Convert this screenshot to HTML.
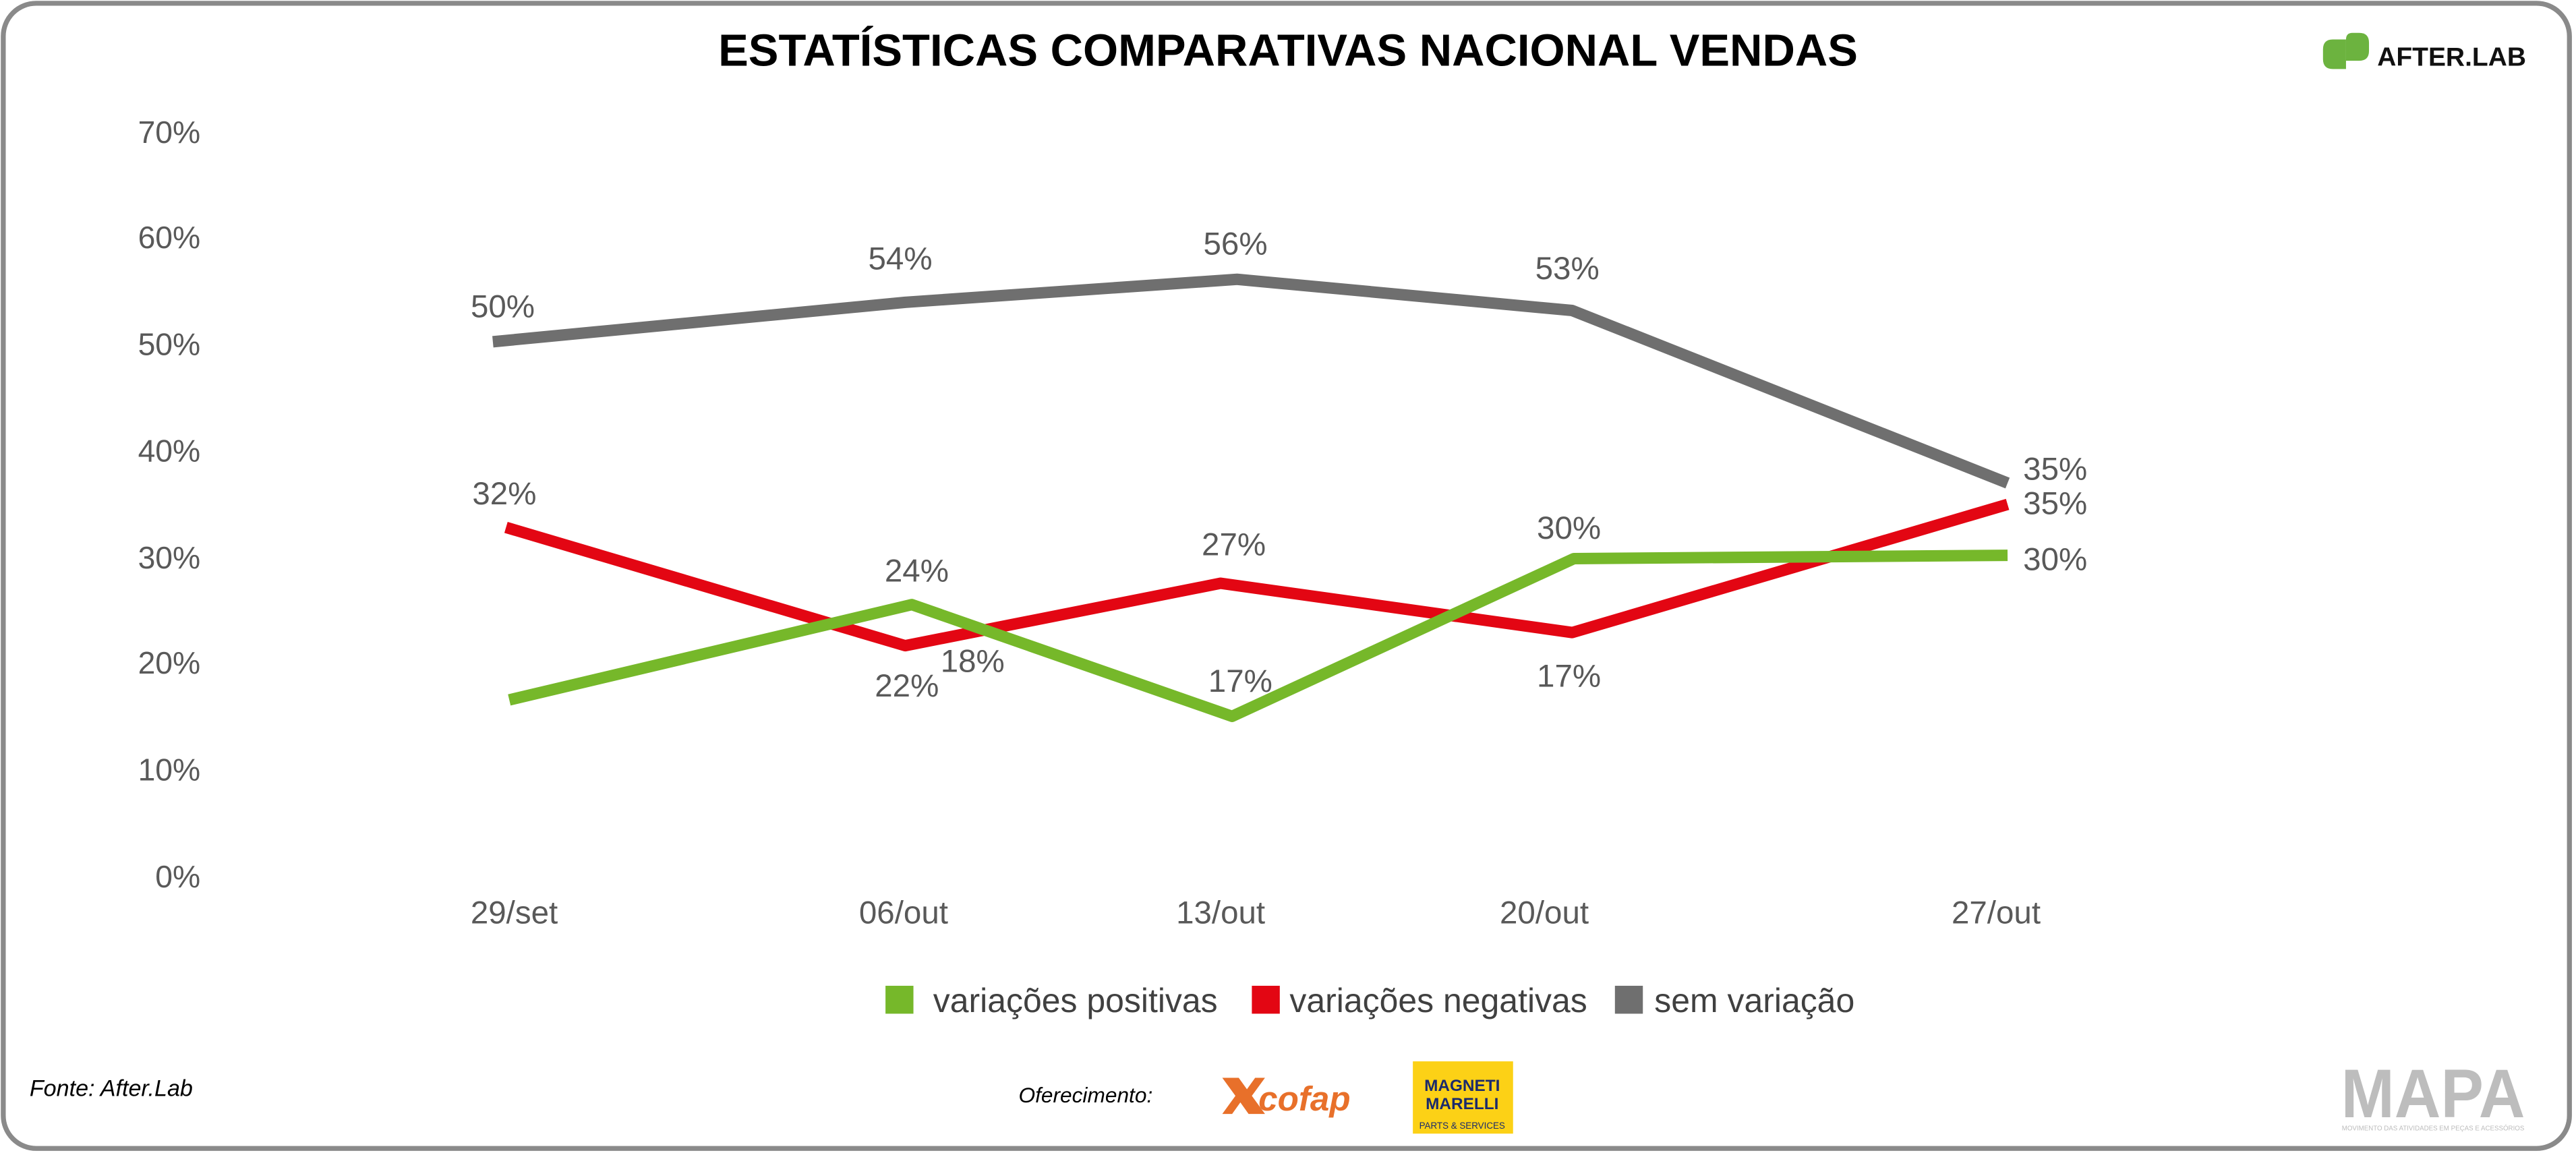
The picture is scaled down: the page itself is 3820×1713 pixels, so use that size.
<!DOCTYPE html>
<html><head><meta charset="utf-8"><style>
html,body{margin:0;padding:0;background:#fff;}
svg{display:block;}
</style></head><body>
<svg width="3820" height="1713" viewBox="0 0 1568 703" preserveAspectRatio="none" xmlns="http://www.w3.org/2000/svg" font-family="Liberation Sans, sans-serif">
<rect x="0" y="0" width="1568" height="703" fill="#fff"/>
<rect x="2" y="2" width="1562" height="697" rx="20" ry="20" fill="none" stroke="#8a8a8a" stroke-width="3"/>
<text x="784" y="40" text-anchor="middle" font-size="27.5" font-weight="bold" fill="#000">ESTATÍSTICAS COMPARATIVAS NACIONAL VENDAS</text>
<!-- After.lab logo -->
<path d="M1414 30 q0-6 6-6 h8 v18 h-8 q-6 0-6-6z" fill="#6cb33f"/>
<path d="M1428 24 q0-4 4-4 h4 q6 0 6 6 v5 q0 6 -6 6 h-8z" fill="#6cb33f"/>
<text x="1447" y="40" font-size="16" font-weight="bold" fill="#111">AFTER.LAB</text>
<!-- y axis -->
<g font-size="19" fill="#595959" text-anchor="end">
<text x="122" y="87">70%</text>
<text x="122" y="151">60%</text>
<text x="122" y="216">50%</text>
<text x="122" y="281">40%</text>
<text x="122" y="346">30%</text>
<text x="122" y="410">20%</text>
<text x="122" y="475">10%</text>
<text x="122" y="540">0%</text>
</g>
<g font-size="19.5" fill="#595959" text-anchor="middle">
<text x="313" y="562">29/set</text>
<text x="550" y="562">06/out</text>
<text x="743" y="562">13/out</text>
<text x="940" y="562">20/out</text>
<text x="1215" y="562">27/out</text>
</g>
<g fill="none" stroke-width="7" stroke-linejoin="round" stroke-linecap="butt">
<polyline stroke="#6f6f6f" points="300,208 551,184 753,170 957,189 1222,294"/>
<polyline stroke="#e30613" points="308,321 551,393 743,355 957,385 1222,307"/>
<polyline stroke="#76b82a" points="310,426 555,368 750,436 958,340 1222,338"/>
</g>
<g font-size="19.5" fill="#595959" text-anchor="middle">
<text x="306" y="193">50%</text>
<text x="548" y="164">54%</text>
<text x="752" y="155">56%</text>
<text x="954" y="170">53%</text>
<text x="1251" y="292">35%</text>
<text x="307" y="307">32%</text>
<text x="552" y="424">22%</text>
<text x="751" y="338">27%</text>
<text x="955" y="418">17%</text>
<text x="1251" y="313">35%</text>
<text x="558" y="354">24%</text>
<text x="592" y="409">18%</text>
<text x="755" y="421">17%</text>
<text x="955" y="328">30%</text>
<text x="1251" y="347">30%</text>
</g>
<!-- legend -->
<rect x="539" y="600" width="17" height="17" fill="#76b82a"/>
<text x="568" y="616" font-size="20.5" fill="#404040">variações positivas</text>
<rect x="762" y="600" width="17" height="17" fill="#e30613"/>
<text x="785" y="616" font-size="20.5" fill="#404040">variações negativas</text>
<rect x="983" y="600" width="17" height="17" fill="#6f6f6f"/>
<text x="1007" y="616" font-size="20.5" fill="#404040">sem variação</text>
<!-- footer -->
<text x="18" y="667" font-size="14" font-style="italic" fill="#000">Fonte: After.Lab</text>
<text x="620" y="671" font-size="13" font-style="italic" fill="#000">Oferecimento:</text>
<path d="M744 656 h10 l5 7 l5 -7 h6 l-8 11 l8 11 h-10 l-5 -7 l-5 7 h-6 l8 -11z" fill="#e8702a"/>
<text x="766" y="676" font-size="21" font-weight="bold" font-style="italic" fill="#e8702a">cofap</text>
<rect x="860" y="646" width="61" height="44" fill="#fcd116"/>
<text x="890" y="664" font-size="10" font-weight="bold" fill="#1a2a6c" text-anchor="middle">MAGNETI</text>
<text x="890" y="675" font-size="10" font-weight="bold" fill="#1a2a6c" text-anchor="middle">MARELLI</text>
<text x="890" y="687" font-size="5.5" fill="#1a2a6c" text-anchor="middle">PARTS &amp; SERVICES</text>
<text x="1481" y="680" font-size="42" font-weight="bold" fill="#bdbdbd" text-anchor="middle" textLength="112" lengthAdjust="spacingAndGlyphs">MAPA</text>
<text x="1481" y="688" font-size="4" fill="#bdbdbd" text-anchor="middle">MOVIMENTO DAS ATIVIDADES EM PEÇAS E ACESSÓRIOS</text>
</svg>
</body></html>
